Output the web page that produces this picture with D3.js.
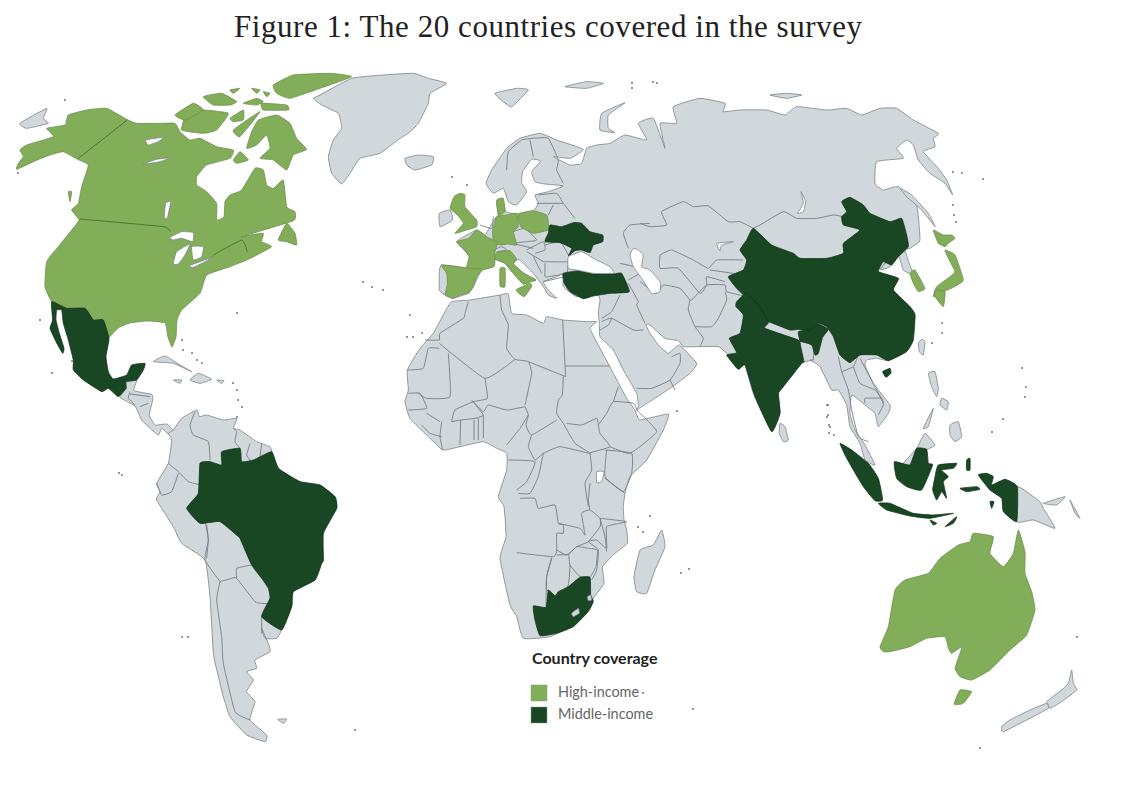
<!DOCTYPE html>
<html>
<head>
<meta charset="utf-8">
<script src="https://d3js.org/d3.v7.min.js"></script>
<style>
  body { margin: 0; background: #fff; }
</style>
</head>
<body>
<script>
// Outlines are hand traced off the reference, so they are approximate.
// Each crop() takes points as read from a 3x zoom with its corner at ox,oy
function crop(ox, oy) {
    return function(pts) { return pts.map(function(p) { return [ox + p[0] / 3, oy + p[1] / 3]; }); };
}
var NA = crop(0, 60), EU = crop(300, 60), AS = crop(640, 80), CA = crop(40, 300), SA = crop(150, 520),
    AF = crop(400, 290), ZA = crop(490, 470), ME = crop(600, 250), SE = crop(810, 330), AU = crop(860, 520);

var title = "Figure 1: The 20 countries covered in the survey";
var legendTitle = "Country coverage";
var groups = ["High-income", "Middle-income"];

// grey land
var otherLand = [
    // Eurasia
    [].concat(EU([[455,715],[435,705],[418,690],[418,635],[425,615],[500,622],[510,590],[470,545],[530,510],[555,525],[570,500],[585,475],[595,465],[590,430],[605,415],[618,455],[650,462],[700,452],[715,430],[705,405],[745,395],[790,378],[735,372],[705,365],[695,335],[722,303],[695,298],[668,335],[665,370],[680,395],[650,435],[625,425],[610,385],[580,400],[558,370],[575,330],[620,265],[660,235],[720,220],[770,240],[850,268],[810,295],[760,290],[810,315],[845,310],[860,265],[890,255],[930,250],[975,225],[1040,240],[1015,190],[1060,175]]),
        AS([[75,205],[60,130],[110,130],[100,80],[180,55],[255,70],[250,95],[300,90],[380,90],[435,105],[470,80],[560,90],[620,85],[665,105],[720,85],[770,85],[820,120],[895,160],[880,175],[885,200],[850,215],[895,265],[920,300],[938,345],[915,310],[870,280],[835,240],[820,195],[800,180],[770,205],[790,235],[710,245],[705,310],[730,330],[775,320],[830,375],[840,480],[825,495],[810,505],[795,510],[815,570],[840,630],[825,590],[790,570],[775,525],[750,560],[720,570],[740,545],[715,575],[775,595],[760,630],[810,680],[825,705],[815,770],[770,825],[745,842]]),
        SE([[200,85],[170,90],[165,105],[190,160],[240,225],[235,250],[205,290],[195,250],[165,225],[125,195],[120,250],[135,300],[165,345],[195,405],[165,390],[150,340],[120,290],[110,225],[85,180],[65,180],[30,110],[0,90]]),
        ME([[640,330],[605,340],[550,410],[535,430],[540,490],[515,545],[460,430],[435,345],[410,355],[385,315],[355,290],[300,290],[250,290],[235,272],[195,265],[150,225],[138,225],[150,250],[175,285],[205,310],[238,285],[290,340],[270,370],[210,415],[110,480]]),
        AF([[715,350],[710,310],[670,240],[640,180],[600,140],[598,100]]),
        EU([[895,755],[900,720],[890,700],[830,710],[790,680],[790,640],[770,650],[730,665],[745,690],[770,715],[745,705],[730,680],[700,640],[660,600],[650,600],[640,612],[672,640],[708,660],[692,665],[670,672],[640,640],[615,610],[585,598],[560,610],[545,628],[520,680],[505,700],[460,715]])),
    // Africa
    AF([[155,35],[210,30],[300,15],[325,12],[335,70],[380,75],[430,100],[440,80],[490,90],[560,95],[590,95],[570,115],[600,175],[640,250],[680,325],[705,360],[720,390],[805,372],[790,420],[740,510],[690,560],[675,610],[670,650],[672,690],[680,720],[682,760],[645,790],[608,830],[612,880],[580,925],[570,960],[520,1005],[450,1040],[370,1045],[350,980],[330,945],[300,805],[318,740],[312,650],[295,620],[320,540],[320,490],[290,475],[250,455],[180,470],[128,480],[85,440],[30,385],[15,335],[25,300],[22,240],[60,175],[100,130],[135,65]]),
    // Central America
    CA([[258,245],[290,240],[282,272],[335,283],[338,300],[328,345],[345,375],[380,372],[400,392],[385,402],[365,385],[355,405],[330,385],[305,360],[285,318],[240,292],[258,265]]),
    // South America
    [].concat(CA([[400,390],[425,355],[470,330],[478,350],[500,345],[550,360],[590,355],[580,385],[600,390],[650,425],[690,440],[700,470],[720,510],[780,545],[840,555],[885,590],[890,625],[850,700],[850,780]]),
        SA([[515,130],[495,180],[430,215],[425,260],[395,330],[380,355],[345,355],[335,325],[355,370],[360,395],[315,420],[320,445],[290,455],[310,480],[290,515],[315,545],[300,600],[350,645],[345,665],[290,645],[240,590],[220,530],[205,470],[190,400],[180,230],[165,120],[95,70]]),
        CA([[400,680],[350,600],[360,575],[350,550],[385,490],[395,420],[385,400]])),
    // Greenland, Iceland and the smaller islands
    EU([[40,115],[60,105],[155,55],[250,45],[340,40],[385,55],[440,70],[390,100],[385,130],[355,190],[325,220],[300,235],[240,280],[180,295],[150,340],[125,372],[95,340],[85,290],[100,240],[125,205],[115,160],[65,135]]),
    EU([[315,295],[355,285],[400,290],[395,315],[345,330],[320,315]]),
    EU([[585,100],[650,85],[685,90],[635,140],[610,125]]),
    EU([[900,210],[905,160],[975,128],[925,165],[925,205],[945,218]]),
    EU([[795,80],[860,65],[910,70],[860,85]]),
    EU([[418,460],[450,450],[458,480],[420,500]]),
    AS([[390,45],[440,40],[485,45],[440,55]]),
    AS([[780,325],[815,345],[865,400],[885,440],[845,390],[800,350]]),
    NA([[60,190],[140,145],[130,175],[145,190],[80,205]]),
    CA([[340,185],[375,168],[420,195],[455,215],[400,190]]),
    CA([[450,240],[475,220],[515,238],[480,250]]),
    CA([[400,240],[425,240],[420,250]]),
    CA([[530,240],[552,242],[545,250]]),
    SA([[383,598],[410,597],[400,610]]),
    ZA([[515,180],[525,230],[495,300],[470,370],[440,365],[432,320],[450,240],[490,225]]),
    ME([[540,520],[555,530],[565,570],[550,575],[538,550]]),
    SE([[325,40],[335,28],[345,35],[340,75],[328,65]]),
    SE([[355,130],[375,125],[385,175],[380,200],[365,170]]),
    SE([[395,205],[415,215],[410,240],[390,225]]),
    SE([[420,285],[445,275],[455,320],[435,335],[420,315]]),
    SE([[340,295],[370,235],[355,290]]),
    SE([[280,400],[320,355],[345,310],[375,345],[350,358],[320,355],[300,405]]),
    SE([[622,470],[690,515],[700,535],[735,595],[670,570],[620,575]]),
    SE([[700,520],[765,500],[740,525]]),
    SE([[780,510],[810,565],[795,550]]),
    AU([[635,450],[640,490],[650,510],[605,545],[570,565],[560,545],[605,510],[625,490]]),
    AU([[560,550],[565,565],[510,595],[430,635],[425,620],[450,600],[510,570]])
];

var highIncome = [
    // USA and Canada together, the lines between them are in coverageBorders
    NA([[50,328],[100,305],[150,285],[190,275],[232,298],[265,315],[245,380],[235,430],[215,450],[237,480],[215,510],[175,560],[140,605],[135,680],[156,726],[201,744],[255,744],[279,780],[309,780],[324,834],[354,804],[390,789],[441,783],[495,789],[504,831],[516,861],[528,831],[531,780],[545,750],[600,700],[620,645],[690,620],[745,598],[815,560],[785,545],[790,520],[750,525],[725,530],[880,482],[885,455],[860,440],[850,360],[820,385],[800,375],[790,330],[765,325],[725,390],[690,405],[675,425],[672,470],[650,480],[650,430],[620,395],[590,375],[590,350],[620,315],[690,295],[700,270],[650,260],[600,235],[570,240],[540,215],[525,190],[480,190],[410,190],[380,178],[320,145],[260,150],[205,165],[195,195],[140,205],[160,230],[80,255],[60,270],[70,290],[55,310]]),
    NA([[740,265],[755,215],[775,180],[830,165],[870,190],[890,235],[920,268],[880,285],[860,330],[820,300],[780,295],[810,265],[800,225],[770,255]]),
    NA([[545,210],[560,160],[610,150],[685,160],[650,210],[610,220]]),
    NA([[525,165],[580,130],[610,150],[555,180]]),
    NA([[690,175],[730,150],[730,180],[700,185]]),
    NA([[700,210],[780,155],[720,230]]),
    NA([[820,75],[880,45],[990,40],[1055,50],[960,85],[870,115],[830,100]]),
    NA([[785,130],[860,135],[865,150],[790,150]]),
    NA([[610,110],[665,100],[710,125],[690,135],[640,135]]),
    NA([[690,90],[720,85],[700,100]]),
    NA([[755,85],[780,90],[770,100]]),
    NA([[790,95],[810,100],[800,110]]),
    NA([[730,130],[770,115],[790,125],[770,135]]),
    NA([[700,300],[720,275],[745,300],[710,310]]),
    NA([[835,540],[860,490],[885,520],[890,555],[860,545]]),
    NA([[205,395],[215,395],[210,425]]),
    // UK, Denmark, Germany, France, Spain, Poland, Italy
    EU([[480,400],[495,405],[495,440],[530,480],[530,500],[500,510],[465,520],[490,490],[472,465],[450,445],[462,410]]),
    EU([[590,420],[610,415],[615,455],[595,465]]),
    EU([[578,510],[590,470],[620,465],[650,460],[655,500],[640,515],[650,555],[625,552],[600,555],[580,545]]),
    EU([[470,545],[505,535],[530,510],[560,530],[592,548],[585,575],[585,600],[582,620],[545,630],[520,625],[500,622],[507,590],[490,565]]),
    EU([[423,615],[460,618],[500,625],[548,628],[530,650],[520,680],[505,700],[480,705],[460,715],[435,705],[442,675],[440,640]]),
    EU([[655,462],[700,452],[740,465],[745,490],[745,510],[700,520],[662,500]]),
    EU([[585,595],[590,578],[630,572],[650,598],[640,612],[672,640],[708,660],[692,665],[670,672],[640,640],[615,610],[590,600]]),
    EU([[648,690],[690,670],[695,680],[672,710]]),
    EU([[600,625],[615,625],[615,680],[600,678]]),
    // South Korea, Japan
    AS([[810,580],[825,570],[855,625],[835,635],[820,610]]),
    AS([[880,450],[910,465],[935,465],[945,475],[925,490],[915,500],[895,490]]),
    AS([[915,510],[945,525],[970,600],[940,622],[900,640],[880,650],[890,620],[930,590],[945,575],[925,535]]),
    AS([[885,630],[915,635],[910,680],[885,650]]),
    // Australia
    AU([[60,380],[85,320],[105,210],[135,180],[205,160],[240,115],[295,75],[330,65],[340,40],[400,50],[390,100],[430,140],[460,100],[475,30],[495,95],[495,160],[515,215],[525,270],[500,345],[450,390],[390,450],[335,480],[300,470],[285,445],[300,400],[305,380],[275,400],[265,385],[255,350],[200,355],[150,380],[90,395],[70,395]]),
    AU([[300,510],[335,515],[310,550],[282,553]])
];

var middleIncome = [
    // Mexico, Brazil
    CA([[35,5],[80,25],[135,25],[160,60],[190,60],[207,115],[198,170],[205,215],[220,237],[260,225],[275,195],[315,190],[310,210],[290,240],[258,245],[258,265],[235,290],[205,265],[185,275],[130,240],[100,210],[100,180],[85,120],[70,70],[65,30],[50,30],[48,60],[58,100],[72,145],[68,160],[48,125],[30,85],[38,60]]),
    [].concat(CA([[480,490],[510,485],[545,495],[545,455],[600,445],[605,485],[640,480],[695,455],[715,505],[780,545],[840,555],[885,590],[890,625],[850,700],[850,780]]),
        SA([[515,130],[495,180],[430,215],[425,260],[395,330],[335,290],[360,235],[355,205],[335,175],[305,135],[270,55]]),
        CA([[600,714],[540,665],[480,670],[440,625],[475,580]])),
    // Ukraine, Turkey
    EU([[735,545],[745,520],[750,495],[785,500],[820,488],[845,490],[870,515],[908,525],[908,545],[880,555],[870,578],[845,570],[825,572],[805,588],[815,565],[780,548]]),
    EU([[790,640],[840,632],[880,642],[940,642],[965,640],[988,695],[930,700],[880,708],[850,716],[810,695],[792,668]]),
    // South Africa, Lesotho and Eswatini are drawn over it
    ZA([[130,408],[168,412],[175,360],[195,378],[205,365],[235,350],[270,322],[300,322],[302,375],[310,395],[290,430],[250,470],[200,490],[150,497],[135,450]]),
    // China, India
    AS([[340,445],[395,495],[460,520],[480,535],[560,535],[610,520],[610,490],[660,450],[610,435],[605,410],[620,395],[605,365],[630,352],[670,375],[690,400],[750,425],[785,415],[800,465],[805,500],[775,530],[755,555],[730,545],[715,575],[775,595],[760,630],[810,680],[825,705],[820,780],[800,815],[745,842],[710,825],[660,825],[630,848],[600,825],[580,770],[560,740],[535,730],[515,755],[475,748],[450,750],[385,725],[375,735],[340,690],[315,650],[290,625],[265,590],[310,570],[320,540],[300,510],[320,480]]),
    ME([[410,155],[440,130],[480,170],[505,218],[495,235],[590,268],[600,275],[595,245],[630,240],[655,222],[685,238],[668,262],[655,310],[645,315],[635,285],[600,275],[612,335],[605,340],[550,410],[535,430],[540,490],[515,545],[465,440],[435,345],[415,358],[380,315],[410,308],[388,265],[420,250],[430,195],[408,170]]),
    SE([[218,125],[240,115],[243,130],[228,142]]),
    // Indonesia
    SE([[90,340],[125,360],[175,400],[205,445],[218,510],[195,512],[160,470],[130,420],[105,375]]),
    SE([[205,520],[240,520],[310,550],[370,555],[430,550],[360,565],[300,558],[230,540]]),
    SE([[253,395],[300,405],[320,355],[350,358],[355,400],[368,405],[335,480],[290,470],[260,445]]),
    SE([[385,405],[440,400],[430,415],[395,420],[415,440],[400,455],[410,505],[395,485],[380,510],[368,480],[375,440]]),
    SE([[470,390],[480,385],[480,420],[470,420]]),
    SE([[450,475],[500,470],[510,478],[470,485]]),
    SE([[505,435],[530,430],[550,440],[545,465],[585,448],[622,470],[620,575],[580,545],[575,505],[540,480]]),
    SE([[540,515],[552,515],[545,535]]),
    SE([[405,590],[440,560],[430,580]]),
    SE([[360,570],[380,580],[370,585]])
];

// seas and lakes on top of the land
var water = [
    EU([[805,590],[845,575],[880,595],[930,620],[940,640],[880,640],[830,630],[805,625]]),
    ME([[90,15],[100,-5],[115,0],[130,15],[125,50],[150,60],[180,95],[180,125],[155,130],[125,85],[100,50]]),
    AS([[230,490],[280,485],[245,495],[240,512]]),
    AS([[483,335],[497,365],[490,395],[473,400],[490,370]]),
    AF([[590,545],[612,545],[605,575],[590,578]]),
    NA([[437,240],[490,232],[475,245],[445,255]]),
    NA([[430,312],[470,298],[510,293],[480,305]]),
    NA([[497,430],[512,425],[502,475],[493,470]]),
    NA([[510,532],[545,515],[580,518],[578,545],[545,535],[520,540]]),
    NA([[520,612],[530,575],[570,552],[555,585],[535,612]]),
    NA([[575,560],[610,560],[605,590],[580,600]]),
    NA([[565,618],[600,605],[640,590],[615,605],[580,622]])
];

// Lesotho and Eswatini stay grey
var enclaves = [
    ZA([[245,430],[265,415],[268,430],[250,440]]),
    ZA([[292,380],[302,375],[305,390],[295,392]])
];

var coverageBorders = [
    NA([[382,180],[235,295]]),
    NA([[240,477],[490,500],[510,515]]),
    NA([[640,585],[725,540],[742,575]])
];

var countryBorders = [
    // Europe
    EU([[620,330],[625,275],[665,240],[700,235],[745,235],[775,300],[770,330],[790,370]]),
    EU([[690,240],[700,290]]),
    EU([[715,405],[770,400],[790,430],[825,475]]),
    EU([[710,430],[790,430]]),
    EU([[745,465],[760,435]]),
    EU([[640,515],[675,505],[710,540],[680,545],[640,550],[700,565]]),
    EU([[680,570],[730,545],[735,570],[705,580]]),
    EU([[735,555],[780,545],[805,585],[805,605],[730,605]]),
    EU([[735,610],[735,650],[745,650],[800,640],[805,605]]),
    EU([[680,575],[730,605]]),
    EU([[700,590],[725,640]]),
    EU([[730,665],[795,650]]),
    EU([[540,495],[575,505],[580,470]]),
    EU([[580,570],[605,560],[620,570],[590,575]]),
    EU([[960,610],[1020,625],[1035,660]]),
    EU([[985,660],[1020,640]]),
    // Russia and Central Asia
    EU([[985,565],[970,520],[990,495],[1050,490]]),
    AS([[0,430],[30,440],[80,435],[65,395],[130,365],[160,380],[205,378],[265,425],[300,425],[340,445]]),
    AS([[340,445],[360,435],[430,395],[470,415],[530,415],[580,405],[610,410]]),
    ME([[180,15],[215,0],[280,30],[325,55],[350,30],[430,30]]),
    ME([[180,15],[180,55],[235,55],[300,130],[320,105],[320,80],[375,95]]),
    ME([[120,95],[170,130],[190,105],[240,115],[270,150],[280,145],[320,105],[375,105],[380,125],[440,140]]),
    ME([[330,60],[400,70]]),
    ME([[375,125],[380,150],[355,205],[335,230],[285,230]]),
    ME([[270,150],[265,180],[285,230],[310,265],[300,290]]),
    // Middle East
    ME([[85,100],[115,155],[110,165],[135,220]]),
    ME([[60,135],[35,185],[5,205]]),
    ME([[5,215],[35,205],[100,240],[130,240]]),
    ME([[35,205],[25,225],[0,240]]),
    ME([[110,415],[155,415],[210,390],[240,340],[240,310],[215,320]]),
    ME([[210,390],[225,420]]),
    ME([[600,275],[640,285],[640,330]]),
    // Africa
    AF([[205,35],[195,70],[190,85],[120,130],[118,150],[75,150]]),
    AF([[118,175],[85,175],[70,235],[22,240]]),
    AF([[118,160],[255,265],[345,208]]),
    AF([[300,15],[305,60],[325,105],[320,175],[345,208],[385,215],[395,250],[375,345]]),
    AF([[145,190],[150,320],[80,325],[55,310]]),
    AF([[255,265],[262,325],[220,335],[165,360],[155,395]]),
    AF([[220,335],[250,365],[265,345],[320,360],[375,350]]),
    AF([[488,90],[497,260]]),
    AF([[385,215],[497,260]]),
    AF([[497,228],[630,228]]),
    AF([[490,260],[487,315],[475,330],[470,370],[490,400]]),
    AF([[375,350],[385,375],[378,405],[395,435],[470,390]]),
    AF([[395,435],[385,470],[405,510],[430,490],[480,470],[570,490],[525,460],[490,400]]),
    AF([[500,400],[545,405],[590,385],[595,405],[600,430],[630,470],[570,488]]),
    AF([[595,405],[620,370],[640,335],[700,340],[715,365],[770,425],[690,490],[630,470]]),
    AF([[640,335],[655,290]]),
    AF([[615,480],[695,490],[695,550],[670,605],[615,560],[620,480]]),
    AF([[570,490],[575,540],[555,580],[565,650]]),
    AF([[320,465],[360,415],[385,375]]),
    AF([[325,510],[405,515],[380,575],[350,600]]),
    AF([[430,490],[415,560],[390,610],[355,610]]),
    AF([[182,390],[180,465]]),
    AF([[222,390],[222,450]]),
    AF([[235,385],[235,450]]),
    AF([[250,375],[250,445]]),
    AF([[155,395],[182,390],[225,385],[250,375],[215,330]]),
    AF([[125,395],[120,440],[128,480]]),
    AF([[80,370],[120,395]]),
    AF([[65,405],[90,430],[125,440]]),
    AF([[25,310],[60,310],[80,355],[25,360]]),
    ZA([[90,85],[135,85],[145,115],[195,105],[205,160],[220,165],[220,190],[200,190],[200,240],[190,260],[80,248]]),
    ZA([[205,160],[270,175],[285,195],[275,130],[300,120],[330,145],[330,170],[295,215],[260,230],[230,255],[200,240]]),
    ZA([[300,120],[295,90],[300,40]]),
    ZA([[330,145],[410,155],[350,170],[350,235],[320,210],[295,215],[325,240],[320,300],[305,330]]),
    ZA([[330,145],[345,200],[350,245]]),
    ZA([[345,25],[405,70]]),
    ZA([[235,255],[260,230],[295,235],[322,240],[318,290],[300,320],[270,320],[240,285],[235,255],[200,255]]),
    ZA([[240,285],[235,345],[205,380],[170,360],[170,320],[185,265]]),
    ZA([[185,262],[170,320],[168,410]]),
    // Americas
    CA([[270,275],[265,295],[285,315]]),
    CA([[270,282],[330,290]]),
    CA([[300,320],[325,310]]),
    CA([[465,335],[450,375],[460,405],[505,425],[510,480]]),
    CA([[580,385],[590,395],[585,425],[600,445]]),
    CA([[630,430],[620,465],[630,480]]),
    CA([[665,430],[660,470]]),
    CA([[385,490],[415,515],[445,545],[480,555],[475,580]]),
    CA([[350,550],[365,585],[395,575],[415,520]]),
    CA([[500,675],[505,720],[500,775]]),
    SA([[165,0],[175,60],[165,120],[210,185]]),
    SA([[210,185],[200,240],[215,350],[220,430],[255,575],[300,600]]),
    SA([[210,185],[245,175],[260,175],[315,245],[335,250],[355,250],[360,235]]),
    SA([[260,175],[260,145],[305,135]]),
    SA([[335,290],[335,340]]),
    // South East Asia
    SE([[85,80],[95,125],[115,180],[125,240],[145,320],[175,335]]),
    SE([[95,125],[130,110],[145,75]]),
    SE([[130,110],[150,160],[195,180],[215,205]]),
    SE([[165,220],[165,205],[215,205],[220,225],[205,255]]),
    SE([[150,85],[200,180],[220,220]])
];

// the islets too small to outline
var specks = [[65,100],[18,173],[52,373],[72,361],[40,320],[119,473],[122,475],[237,313],[182,340],[183,350],[192,353],[197,360],[202,363],[233,383],[237,390],[238,400],[242,407],[237,417],[363,282],[372,287],[383,290],[407,337],[413,337],[422,333],[410,315],[452,177],[467,185],[650,516],[638,527],[643,532],[681,573],[689,569],[828,405],[828,415],[829,425],[829,433],[677,411],[827,405],[827,417],[830,427],[834,435],[1022,368],[1026,387],[1025,397],[1003,419],[992,432],[942,323],[942,333],[932,343],[953,172],[962,173],[953,205],[954,215],[956,222],[980,748],[1077,637],[643,693],[693,709],[182,637],[188,637],[355,730],[983,179],[632,83],[653,82],[632,88],[657,83]];

var color = d3.scaleOrdinal().domain(groups).range(["#82ae59", "#1a4723"]);
var landGrey = "#d1d8dc", coast = "#7b8389";
var width = 1124, height = 792;

var svg = d3.select("body").append("svg")
    .attr("width", width)
    .attr("height", height);

// traced points are in page units of the 1124 x 792 picture
var x = d3.scaleLinear().domain([0, 1124]).range([0, width]);
var y = d3.scaleLinear().domain([0, 792]).range([0, height]);

var ring = d3.line()
    .x(function(d) { return x(d[0]); })
    .y(function(d) { return y(d[1]); })
    .curve(d3.curveCardinalClosed.tension(0.6));

var border = d3.line()
    .x(function(d) { return x(d[0]); })
    .y(function(d) { return y(d[1]); })
    .curve(d3.curveCardinal.tension(0.6));

function addLand(rings, fill, stroke) {
    svg.append("g")
        .selectAll("path")
        .data(rings)
        .enter().append("path")
        .attr("d", ring)
        .attr("fill", fill)
        .attr("stroke", stroke)
        .attr("stroke-width", 0.8)
        .attr("stroke-linejoin", "round");
}

function addLines(lines, stroke) {
    svg.append("g")
        .selectAll("path")
        .data(lines)
        .enter().append("path")
        .attr("d", border)
        .attr("fill", "none")
        .attr("stroke", stroke)
        .attr("stroke-width", 0.9);
}

addLand(otherLand, landGrey, coast);
addLines(countryBorders, "#757d83");
addLand(highIncome, color(groups[0]), "#6d8f4c");
addLand(middleIncome, color(groups[1]), "#14351b");
addLines(coverageBorders, "#41702f");
addLand(water, "#fff", coast);
addLand(enclaves, landGrey, coast);

svg.append("g")
    .selectAll("circle")
    .data(specks)
    .enter().append("circle")
    .attr("cx", function(d) { return x(d[0]); })
    .attr("cy", function(d) { return y(d[1]); })
    .attr("r", 1)
    .attr("fill", "#6f767c");

svg.append("text")
    .attr("x", 234)
    .attr("y", 37)
    .attr("textLength", 628)
    .attr("lengthAdjust", "spacing")
    .style("font-family", "'Liberation Serif', serif")
    .style("font-size", "31px")
    .attr("fill", "#222")
    .text(title);

svg.append("text")
    .attr("x", 532)
    .attr("y", 664)
    .style("font-family", "Lato, sans-serif")
    .style("font-weight", "700")
    .style("font-size", "16px")
    .attr("fill", "#222")
    .text(legendTitle);

var legendY = d3.scalePoint().domain(groups).range([693, 715]);

var legend = svg.selectAll(".legend")
    .data(groups)
    .enter().append("g")
    .attr("class", "legend")
    .attr("transform", function(d) { return "translate(531," + legendY(d) + ")"; });

legend.append("rect")
    .attr("y", -8)
    .attr("width", 16)
    .attr("height", 16)
    .attr("fill", function(d) { return color(d); })
    .attr("stroke", "#8a9a80")
    .attr("stroke-width", 0.5);

legend.append("text")
    .attr("x", 27)
    .attr("y", 4)
    .style("font-family", "Lato, sans-serif")
    .style("font-size", "14.4px")
    .attr("fill", "#666")
    .text(function(d) { return d; });
</script>
</body>
</html>
